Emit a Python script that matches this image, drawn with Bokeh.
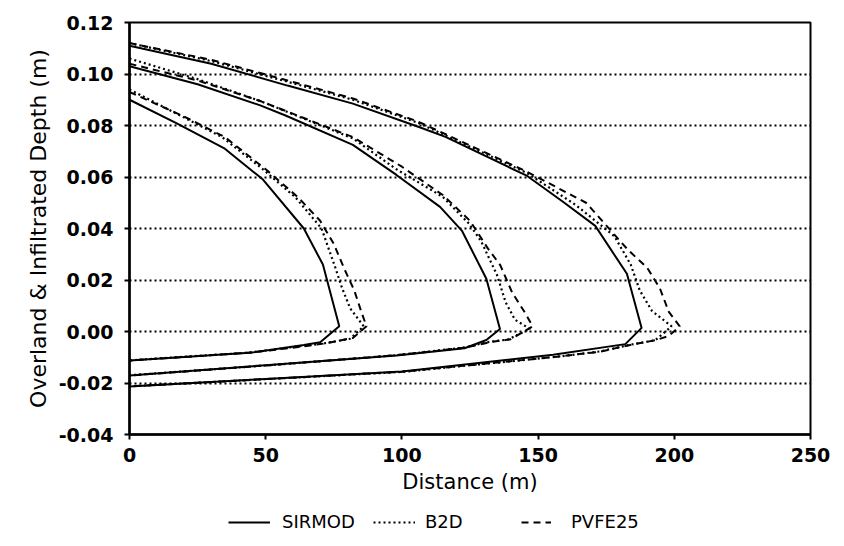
from bokeh.plotting import figure
from bokeh.layouts import column
from bokeh.models import Range1d, SingleIntervalTicker, NumeralTickFormatter, Legend, LegendItem
from bokeh.embed import file_html
from bokeh.resources import INLINE

# ---- data: distance (m) and overland(+)/infiltrated(-) depth (m), outward along surface then back along infiltration ----
SIRMOD_T1_X = [0, 17, 35, 49, 64, 71, 77, 70, 64, 44, 20, 0]
SIRMOD_T1_Y = [0.090, 0.081, 0.071, 0.059, 0.040, 0.026, 0.002, -0.0042, -0.0052, -0.0083, -0.0099, -0.0113]
B2D_T1_X = [0, 19.5, 34, 49, 61, 70.5, 75.5, 78, 81, 86, 81, 71, 64, 44, 20, 0]
B2D_T1_Y = [0.094, 0.0834, 0.0755, 0.063, 0.052, 0.040, 0.025, 0.017, 0.009, 0.002, -0.0028, -0.0047, -0.0055, -0.0082, -0.0098, -0.0112]
PVFE_T1_X = [0, 20, 35, 50, 62, 70, 75, 79, 82.5, 85, 87, 82, 72, 60, 44, 20, 0]
PVFE_T1_Y = [0.093, 0.0835, 0.0755, 0.063, 0.052, 0.043, 0.034, 0.024, 0.016, 0.008, 0.002, -0.0025, -0.0046, -0.0063, -0.0082, -0.0099, -0.0113]

SIRMOD_T2_X = [0, 25, 48, 57.5, 82, 98, 114, 122, 131, 136, 131, 123, 98, 50, 0]
SIRMOD_T2_Y = [0.103, 0.096, 0.0878, 0.0838, 0.0725, 0.0608, 0.0484, 0.0392, 0.0205, 0.001, -0.0033, -0.0065, -0.0093, -0.0131, -0.0171]
B2D_T2_X = [0, 25, 48, 82, 98, 115, 124.6, 129.1, 134.9, 138.1, 141.5, 147, 139, 131.6, 123, 98, 50, 0]
B2D_T2_Y = [0.106, 0.098, 0.0895, 0.075, 0.063, 0.0523, 0.0419, 0.035, 0.022, 0.0113, 0.0046, 0.001, -0.0031, -0.0041, -0.0062, -0.0092, -0.0132, -0.0170]
PVFE_T2_X = [0, 25, 48, 82, 100, 115, 125, 131.6, 136.1, 140.5, 145.3, 148, 140, 132, 123, 98, 50, 0]
PVFE_T2_Y = [0.104, 0.0975, 0.0895, 0.0755, 0.064, 0.053, 0.043, 0.0322, 0.0258, 0.0151, 0.0071, 0.002, -0.0030, -0.0042, -0.0063, -0.0092, -0.0132, -0.0171]

SIRMOD_T3_X = [0, 30, 58, 82, 106, 116, 146, 159, 171, 182.6, 188, 182, 155.5, 100, 50, 0]
SIRMOD_T3_Y = [0.111, 0.104, 0.0955, 0.0885, 0.0795, 0.0756, 0.0604, 0.0505, 0.041, 0.0224, 0.0014, -0.0049, -0.0090, -0.0155, -0.0184, -0.0214]
B2D_T3_X = [0, 30, 58, 82, 106, 146, 164, 178, 184, 187.3, 191.8, 199, 193, 183, 173, 157, 100, 50, 0]
B2D_T3_Y = [0.112, 0.105, 0.097, 0.090, 0.081, 0.0615, 0.049, 0.037, 0.026, 0.016, 0.008, 0.002, -0.0034, -0.0053, -0.0077, -0.0098, -0.0157, -0.0185, -0.0213]
PVFE_T3_X = [0, 30, 58, 82, 106, 146, 167.6, 183, 190, 194.7, 198, 202, 198, 193, 183, 173, 157, 100, 50, 0]
PVFE_T3_Y = [0.112, 0.1055, 0.0975, 0.0905, 0.0815, 0.062, 0.050, 0.0317, 0.0248, 0.0168, 0.0076, 0.002, -0.0017, -0.0034, -0.0054, -0.0078, -0.0098, -0.0156, -0.0185, -0.0213]

MODEL_NAMES = ["SIRMOD", "B2D", "PVFE25"]
X_TITLE = "Distance (m)"
Y_TITLE = "Overland & Infiltrated Depth (m)"

FONT = "DejaVu Sans"

p = figure(width=844, height=500, output_backend="svg", toolbar_location=None,
           x_range=Range1d(0, 250), y_range=Range1d(-0.04, 0.12),
           min_border_left=129, min_border_right=34, min_border_top=22, min_border_bottom=66)
p.background_fill_color = "white"
p.border_fill_color = "white"
p.outline_line_color = "black"
p.outline_line_width = 2

p.xgrid.visible = False
p.ygrid.grid_line_color = "black"
p.ygrid.grid_line_dash = "2 3"
p.ygrid.grid_line_width = 1.8
p.ygrid.ticker = SingleIntervalTicker(interval=0.02)

p.xaxis.ticker = SingleIntervalTicker(interval=50)
p.yaxis.ticker = SingleIntervalTicker(interval=0.02)
p.yaxis.formatter = NumeralTickFormatter(format="0.00")
for ax in (p.xaxis, p.yaxis):
    ax.axis_line_width = 2.5
    ax.axis_line_color = "black"
    ax.major_tick_line_width = 2
    ax.major_tick_line_color = "black"
    ax.major_tick_out = 5
    ax.major_tick_in = 0
    ax.minor_tick_line_color = None
    ax.major_label_text_font = FONT
    ax.major_label_text_font_style = "bold"
    ax.major_label_text_font_size = "19px"
    ax.major_label_text_color = "black"
    ax.axis_label_text_font = FONT
    ax.axis_label_text_font_style = "normal"
    ax.axis_label_text_color = "black"
p.xaxis.axis_label_text_font_size = "21px"
p.yaxis.axis_label_text_font_size = "22px"
p.xaxis.major_label_standoff = 8
p.yaxis.major_label_standoff = 11
p.xaxis.axis_label = X_TITLE
p.yaxis.axis_label = Y_TITLE
p.xaxis.axis_label_standoff = 5
p.yaxis.axis_label_standoff = 5

styles = {
    "SIRMOD": dict(line_dash="solid", line_width=2),
    "B2D": dict(line_dash="2 3", line_width=2.2),
    "PVFE25": dict(line_dash="7 5", line_width=2),
}
curves = {
    "SIRMOD": [(SIRMOD_T1_X, SIRMOD_T1_Y), (SIRMOD_T2_X, SIRMOD_T2_Y), (SIRMOD_T3_X, SIRMOD_T3_Y)],
    "B2D": [(B2D_T1_X, B2D_T1_Y), (B2D_T2_X, B2D_T2_Y), (B2D_T3_X, B2D_T3_Y)],
    "PVFE25": [(PVFE_T1_X, PVFE_T1_Y), (PVFE_T2_X, PVFE_T2_Y), (PVFE_T3_X, PVFE_T3_Y)],
}
for name in MODEL_NAMES:
    for xs, ys in curves[name]:
        p.line(xs, ys, line_color="black", **styles[name])

# ---- legend strip below the chart (its frame is aligned with the chart's frame) ----
leg_fig = figure(width=844, height=46, output_backend="svg", toolbar_location=None,
                 x_range=Range1d(0, 1), y_range=Range1d(0, 1),
                 min_border=0, min_border_left=129, min_border_right=34, min_border_top=0, min_border_bottom=0)
leg_fig.axis.visible = False
leg_fig.grid.visible = False
leg_fig.outline_line_color = None
leg_fig.background_fill_color = "white"
leg_fig.border_fill_color = "white"

# per-entry placement (offset from frame left), glyph width, gap to label
LEG_LAYOUT = {"SIRMOD": (99, 42, 12), "B2D": (244, 42, 10), "PVFE25": (392, 30, 20)}
for name in MODEL_NAMES:
    # placeholder renderer kept outside the strip's visible range; only its style feeds the legend
    r = leg_fig.line(x=[5, 6], y=[5, 5], line_color="black", **styles[name])
    lx, gw, gap = LEG_LAYOUT[name]
    lg = Legend(items=[LegendItem(label=name, renderers=[r])], orientation="horizontal",
                location=(lx, 14), glyph_width=gw, glyph_height=20, label_standoff=gap,
                padding=0, margin=0, border_line_color=None, background_fill_alpha=0,
                label_text_font=FONT, label_text_font_size="18px", label_text_color="black")
    leg_fig.add_layout(lg, "center")

open("out.html", "w").write(file_html(column(p, leg_fig, spacing=0), INLINE))
